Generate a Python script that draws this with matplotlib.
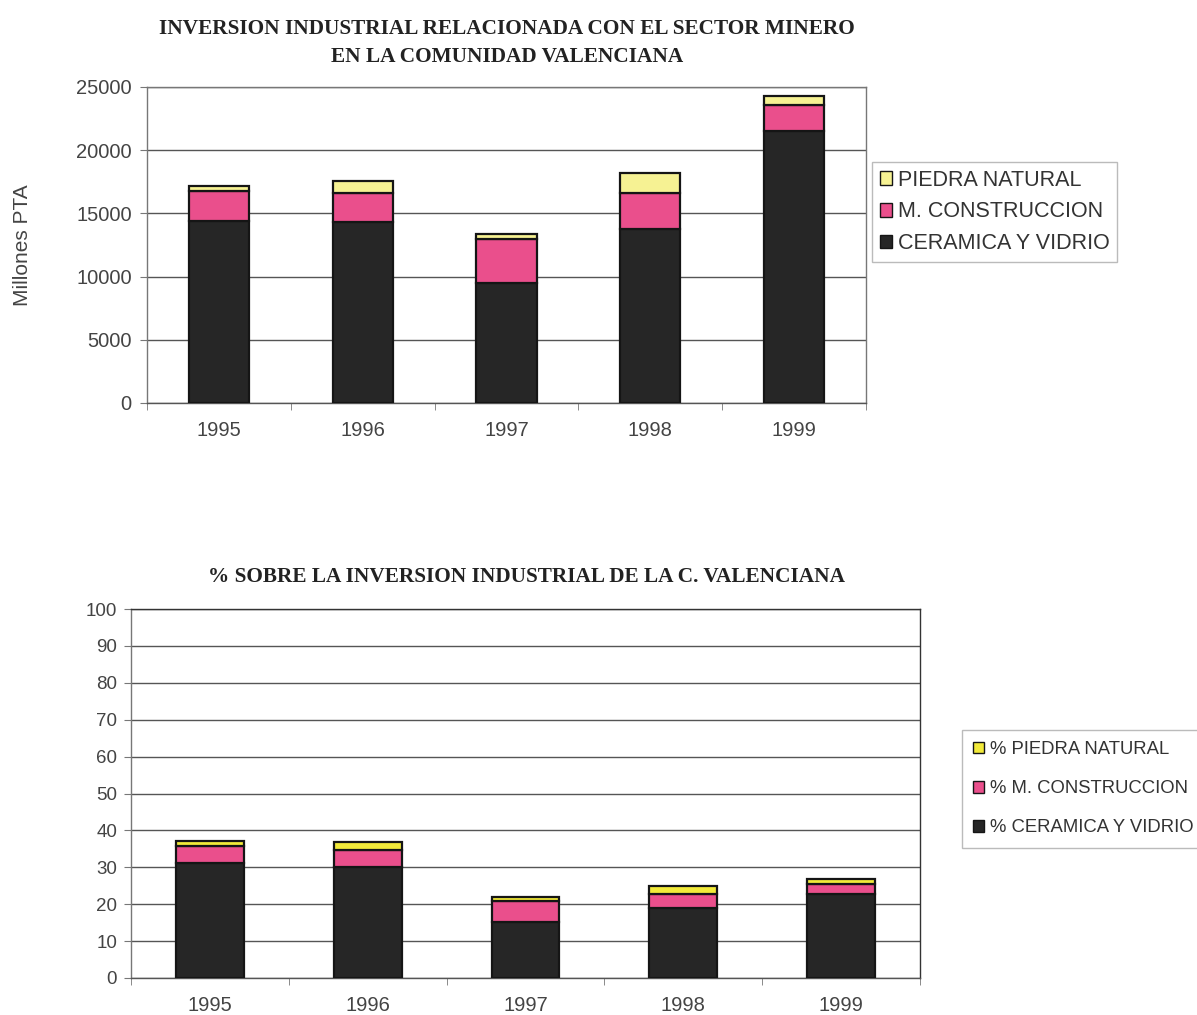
import matplotlib
matplotlib.use("Agg")
import matplotlib.pyplot as plt
import numpy as np
from matplotlib.patches import Patch

years = ["1995", "1996", "1997", "1998", "1999"]

# Investment, millions of pesetas
ceramica = [14400, 14350, 9500, 13750, 21500]
construccion = [2400, 2300, 3450, 2850, 2100]
piedra = [400, 900, 450, 1600, 700]

# Share of total industrial investment in the region (%)
pct_ceramica = [31.2, 30.1, 15.1, 19.0, 22.8]
pct_construccion = [4.7, 4.7, 5.7, 3.8, 2.8]
pct_piedra = [1.1, 2.1, 1.1, 2.0, 1.2]

top_labels = ["PIEDRA NATURAL", "M. CONSTRUCCION", "CERAMICA Y VIDRIO"]
bottom_labels = ["% PIEDRA NATURAL", "% M. CONSTRUCCION", "% CERAMICA Y VIDRIO"]

C_DARK = "#262626"
C_PINK = "#ea4f8c"
C_YELLOW_TOP = "#f6f293"
C_YELLOW_BOT = "#f2ea3a"
EDGE = "#151515"
TXT = "#444444"
SANS = "Liberation Sans"
SERIF = "Liberation Serif"

W, H = 1197, 1015
fig = plt.figure(figsize=(W / 100, H / 100), dpi=100)
fig.patch.set_facecolor("white")


def px_axes(x0, y0, x1, y1):
    return fig.add_axes([x0 / W, 1 - y1 / H, (x1 - x0) / W, (y1 - y0) / H])


def style_axes(ax, ymax, step, frame_color, ysize):
    x = np.arange(len(years))
    ax.set_xlim(-0.5, len(years) - 0.5)
    ax.set_ylim(0, ymax)
    ax.set_yticks(np.arange(0, ymax + 1, step))
    ax.set_xticks(x)
    ax.set_xticklabels(years, fontsize=14.5, color=TXT, family=SANS)
    ax.set_xticks(np.arange(-0.5, len(years), 1), minor=True)
    ax.tick_params(axis="x", which="major", length=0, pad=13)
    ax.tick_params(axis="x", which="minor", length=5, color="#777777", direction="out")
    ax.tick_params(axis="y", length=5, color="#777777", direction="out", pad=6,
                   labelsize=ysize, labelcolor=TXT)
    for lab in ax.get_yticklabels():
        lab.set_family(SANS)
    ax.yaxis.grid(True, color="#555555", linewidth=1.0)
    ax.set_axisbelow(True)
    for s in ax.spines.values():
        s.set_color(frame_color)
        s.set_linewidth(1.0)
    ax.spines["left"].set_color("#777777")
    ax.spines["bottom"].set_color("#555555")


def stacked(ax, a, b, c, width, yellow):
    x = np.arange(len(years))
    a = np.array(a)
    b = np.array(b)
    c = np.array(c)
    ax.bar(x, a, width, color=C_DARK, edgecolor=EDGE, linewidth=1.6, zorder=3)
    ax.bar(x, b, width, bottom=a, color=C_PINK, edgecolor=EDGE, linewidth=1.6, zorder=3)
    ax.bar(x, c, width, bottom=a + b, color=yellow, edgecolor=EDGE, linewidth=1.6, zorder=3)


# Upper chart: absolute investment
ax1 = px_axes(147, 87, 866, 403)
style_axes(ax1, 25000, 5000, "#777777", 14.5)
stacked(ax1, ceramica, construccion, piedra, 0.42, C_YELLOW_TOP)
ax1.set_ylabel("Millones PTA", fontsize=15, color=TXT, family=SANS)
ax1.yaxis.set_label_coords(-0.16, 0.5)
fig.text(507 / W, 1 - 43 / H,
         "INVERSION INDUSTRIAL RELACIONADA CON EL SECTOR MINERO\nEN LA COMUNIDAD VALENCIANA",
         ha="center", va="center", fontsize=15.3, fontweight="bold", family=SERIF,
         color="#222222", linespacing=1.55)

handles1 = [Patch(facecolor=C_YELLOW_TOP, edgecolor=EDGE),
            Patch(facecolor=C_PINK, edgecolor=EDGE),
            Patch(facecolor=C_DARK, edgecolor=EDGE)]
leg1 = fig.legend(handles1, top_labels, loc="upper left",
                  bbox_to_anchor=(872 / W, 1 - 162 / H),
                  prop={"family": SANS, "size": 15.5}, frameon=True, fancybox=False,
                  handlelength=0.6, handleheight=0.6, handletextpad=0.25,
                  labelspacing=0.5, borderpad=0.35, borderaxespad=0)
leg1.get_frame().set_edgecolor("#aaaaaa")
leg1.get_frame().set_linewidth(1.0)
for t in leg1.get_texts():
    t.set_color("#333333")

# Lower chart: percentage of regional industrial investment
ax2 = px_axes(131, 609, 920, 978)
style_axes(ax2, 100, 10, "#333333", 13.5)
stacked(ax2, pct_ceramica, pct_construccion, pct_piedra, 0.43, C_YELLOW_BOT)
ax2.tick_params(axis="y", pad=5)
fig.text(527 / W, 1 - 577 / H,
         "% SOBRE LA INVERSION INDUSTRIAL DE LA C. VALENCIANA",
         ha="center", va="center", fontsize=15.3, fontweight="bold", family=SERIF,
         color="#222222")

handles2 = [Patch(facecolor=C_YELLOW_BOT, edgecolor=EDGE),
            Patch(facecolor=C_PINK, edgecolor=EDGE),
            Patch(facecolor=C_DARK, edgecolor=EDGE)]
leg2 = fig.legend(handles2, bottom_labels, loc="upper left",
                  bbox_to_anchor=(962 / W, 1 - 730 / H),
                  prop={"family": SANS, "size": 13.3}, frameon=True, fancybox=False,
                  handlelength=0.6, handleheight=0.6, handletextpad=0.3,
                  labelspacing=1.2, borderpad=0.6, borderaxespad=0)
leg2.get_frame().set_edgecolor("#aaaaaa")
leg2.get_frame().set_linewidth(1.0)
for t in leg2.get_texts():
    t.set_color("#333333")

fig.savefig("out.png", dpi=100, facecolor="white")
